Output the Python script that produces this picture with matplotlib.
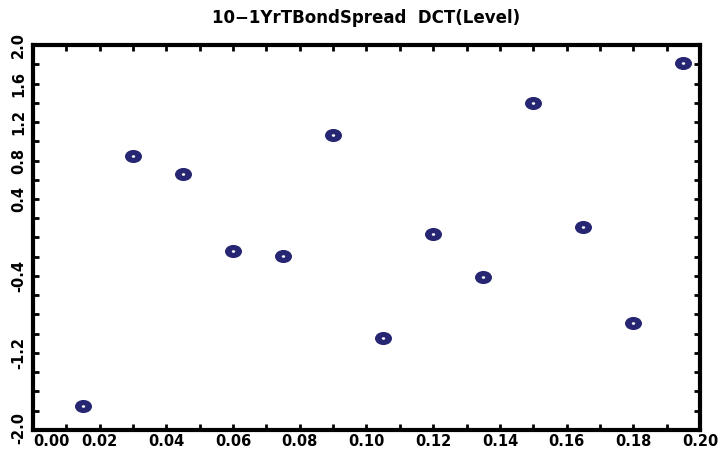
import numpy as np
import matplotlib
matplotlib.use('Agg')
import matplotlib.pyplot as plt
import matplotlib.transforms as mtransforms
from matplotlib.path import Path
from matplotlib.ticker import MultipleLocator, FormatStrFormatter, FixedLocator

# data
x = [0.015, 0.030, 0.045, 0.060, 0.075, 0.090, 0.105, 0.120, 0.135, 0.150, 0.165, 0.180, 0.195]
y = [-1.75, 0.85, 0.66, -0.14, -0.19, 1.07, -1.04, 0.04, -0.41, 1.40, 0.11, -0.89, 1.81]

# y labels shown in the reference (some skipped there)
ylabels = [-2.0, -1.2, -0.4, 0.4, 0.8, 1.2, 1.6, 2.0]
xticks = [0.00, 0.02, 0.04, 0.06, 0.08, 0.10, 0.12, 0.14, 0.16, 0.18, 0.20]

title = '10\u22121YrTBondSpread  DCT(Level)'

fig = plt.figure(figsize=(7.25, 4.51), dpi=100)
ax = fig.add_axes([0.0455, 0.0466, 0.92, 0.8536])

# elliptical marker (wider than tall)
circ = Path.unit_circle()
ell = Path(circ.vertices * np.array([1.3, 1.0]), circ.codes)
ax.scatter(x, y, marker=ell, s=150, color='#262673', zorder=3, linewidths=0)
ax.scatter(x, y, marker=ell, s=6, color='white', zorder=4, linewidths=0)

ax.set_xlim(0, 0.20)
ax.set_ylim(-2.0, 2.0)
ax.xaxis.set_major_locator(FixedLocator(xticks))
ax.xaxis.set_minor_locator(MultipleLocator(0.01))
ax.yaxis.set_major_locator(FixedLocator(ylabels))
ax.yaxis.set_minor_locator(MultipleLocator(0.2))
ax.xaxis.set_major_formatter(FormatStrFormatter('%.2f'))
ax.yaxis.set_major_formatter(FormatStrFormatter('%.1f'))

for s in ax.spines.values():
    s.set_linewidth(3)
ax.tick_params(which='both', direction='in', top=True, right=True,
               length=4, width=2, labelsize=10.5)
ax.tick_params(axis='x', pad=3)
ax.tick_params(axis='y', pad=5)
for lab in ax.get_xticklabels() + ax.get_yticklabels():
    lab.set_fontweight('bold')
for lab in ax.get_yticklabels():
    lab.set_rotation(90)
    lab.set_va('center')

# first x label sits right of its tick, lowest y label nudged up
xt0 = ax.xaxis.get_major_ticks()[0].label1
xt0.set_horizontalalignment('left')
yt0 = ax.yaxis.get_major_ticks()[0].label1
yt0.set_transform(yt0.get_transform() +
                  mtransforms.ScaledTranslation(0, 1.5 / 72, fig.dpi_scale_trans))

ax.set_title(title, fontsize=12, fontweight='bold', pad=16)

plt.savefig('out.png', dpi=100)
